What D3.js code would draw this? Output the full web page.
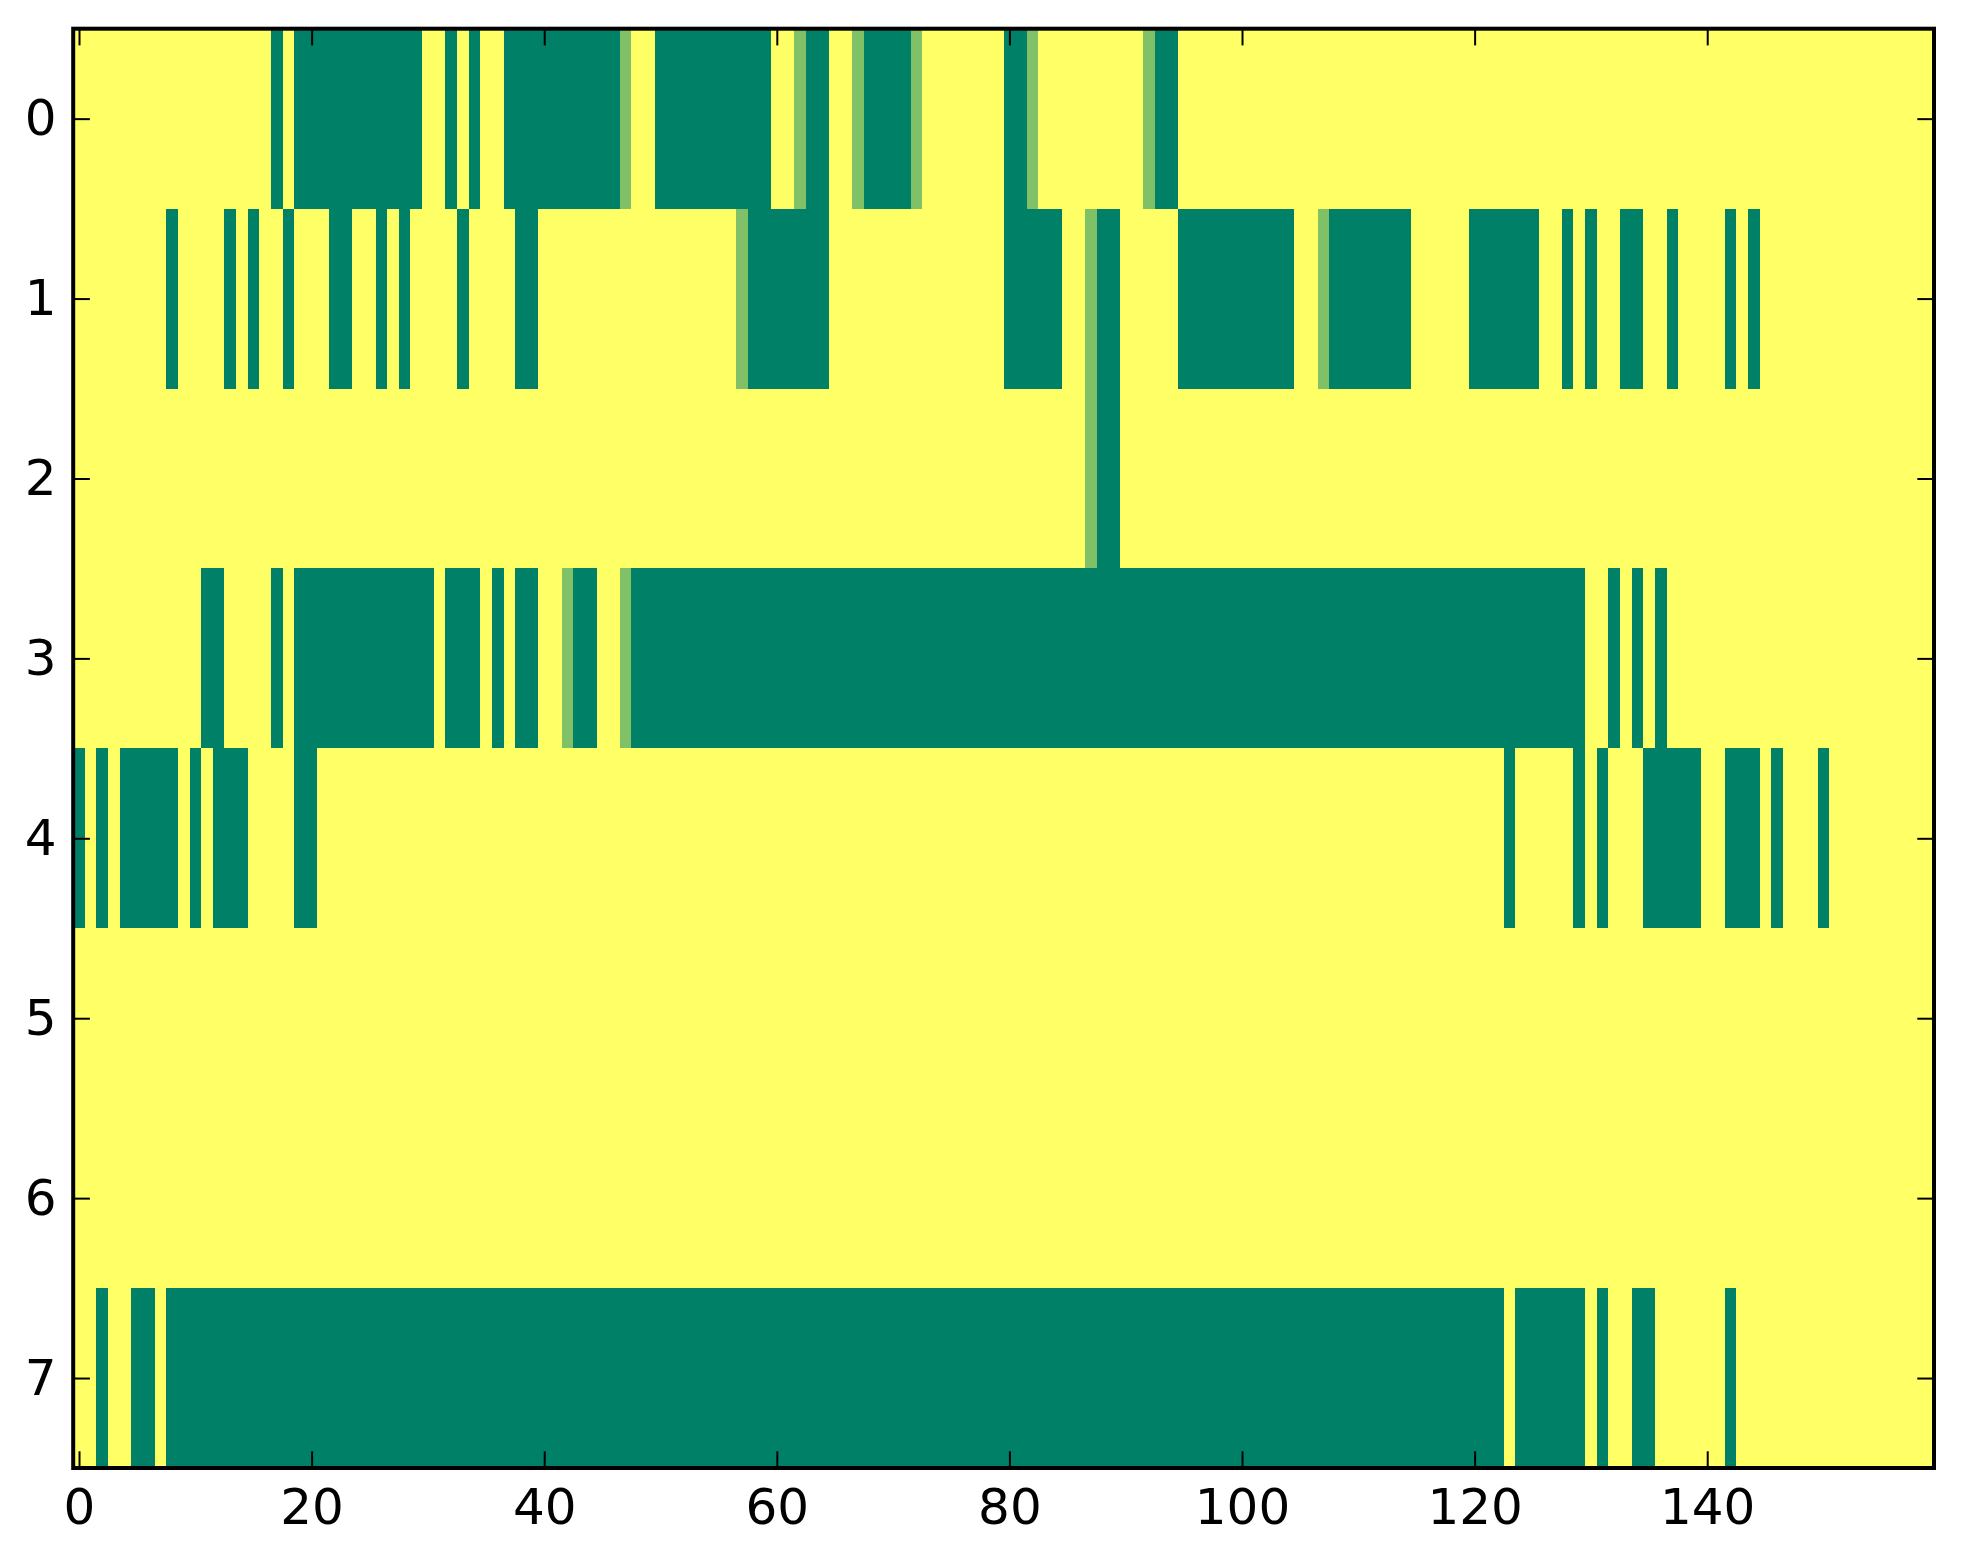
<!DOCTYPE html>
<html>
<head>
<meta charset="utf-8">
<script src="https://cdn.jsdelivr.net/npm/d3@7"></script>
<style>
  body { margin: 0; background: #fff; }
  text { font-family: "DejaVu Sans", sans-serif; }
</style>
</head>
<body>
<div class="chart"></div>
<script>
// 8 rows x 160 columns, default value 1 (yellow).
// each row lists the runs that differ: [firstCol, lastCol, value]
const nCols = 160;
const nRows = 8;

const row0 = [[17, 17, 0], [19, 29, 0], [32, 32, 0], [34, 34, 0], [37, 46, 0], [47, 47, 0.5],
  [50, 59, 0], [62, 62, 0.5], [63, 64, 0], [67, 67, 0.5], [68, 71, 0], [72, 72, 0.5],
  [80, 81, 0], [82, 82, 0.5], [92, 92, 0.5], [93, 94, 0]];
const row1 = [[8, 8, 0], [13, 13, 0], [15, 15, 0], [18, 18, 0], [22, 23, 0], [26, 26, 0],
  [28, 28, 0], [33, 33, 0], [38, 39, 0], [57, 57, 0.5], [58, 64, 0], [80, 84, 0],
  [87, 87, 0.5], [88, 89, 0], [95, 104, 0], [107, 107, 0.5], [108, 114, 0], [120, 125, 0],
  [128, 128, 0], [130, 130, 0], [133, 134, 0], [137, 137, 0], [142, 142, 0], [144, 144, 0]];
const row2 = [[87, 87, 0.5], [88, 89, 0]];
const row3 = [[11, 12, 0], [17, 17, 0], [19, 30, 0], [32, 34, 0], [36, 36, 0], [38, 39, 0],
  [42, 42, 0.5], [43, 44, 0], [47, 47, 0.5], [48, 129, 0], [132, 132, 0], [134, 134, 0],
  [136, 136, 0]];
const row4 = [[0, 0, 0], [2, 2, 0], [4, 8, 0], [10, 10, 0], [12, 14, 0], [19, 20, 0],
  [123, 123, 0], [129, 129, 0], [131, 131, 0], [135, 139, 0], [142, 144, 0], [146, 146, 0],
  [150, 150, 0]];
const row5 = [];
const row6 = [];
const row7 = [[2, 2, 0], [5, 6, 0], [8, 122, 0], [124, 129, 0], [131, 131, 0], [134, 135, 0],
  [142, 142, 0]];

const rowRuns = [row0, row1, row2, row3, row4, row5, row6, row7];
const xTicks = [0, 20, 40, 60, 80, 100, 120, 140];
const yTicks = [0, 1, 2, 3, 4, 5, 6, 7];

// expand runs into cells
const cells = [];
rowRuns.forEach((runs, r) => {
  const vals = new Array(nCols).fill(1);
  runs.forEach(([a, b, v]) => {
    for (let c = a; c <= b; c++) vals[c] = v;
  });
  vals.forEach((v, c) => cells.push({row: r, col: c, value: v}));
});

const width = 1963;
const height = 1564;
const box = {left: 73.2, top: 28.7, right: 1934, bottom: 1468};
const tickLen = 16.7;

const x = d3.scaleLinear().domain([-0.5, nCols - 0.5]).range([box.left, box.right]);
const y = d3.scaleLinear().domain([-0.5, nRows - 0.5]).range([box.top, box.bottom]);
// matplotlib "summer" colormap
const color = d3.scaleLinear().domain([0, 1]).range(['#008066', '#ffff66']);

const svg = d3.select('.chart').append('svg')
  .attr('width', width).attr('height', height);

svg.append('g')
  .attr('shape-rendering', 'crispEdges')
  .selectAll('rect')
  .data(cells)
  .enter()
  .append('rect')
  .attr('x', d => x(d.col - 0.5))
  .attr('y', d => y(d.row - 0.5))
  .attr('width', x(1) - x(0) + 0.4)
  .attr('height', y(1) - y(0) + 0.4)
  .attr('fill', d => color(d.value));

function styleAxis(g) {
  g.select('.domain').remove();
  g.selectAll('.tick line').attr('stroke', '#000').attr('stroke-width', 2);
  g.selectAll('.tick text').attr('fill', '#000').style('font-size', '50px');
}

svg.append('g')
  .attr('transform', `translate(0,${box.bottom})`)
  .call(d3.axisBottom(x).tickValues(xTicks).tickSizeInner(-tickLen).tickSizeOuter(0).tickPadding(20))
  .call(styleAxis);
svg.append('g')
  .attr('transform', `translate(0,${box.top})`)
  .call(d3.axisTop(x).tickValues(xTicks).tickSizeInner(-tickLen).tickSizeOuter(0).tickFormat(''))
  .call(styleAxis);
svg.append('g')
  .attr('transform', `translate(${box.left},0)`)
  .call(d3.axisLeft(y).tickValues(yTicks).tickSizeInner(-tickLen).tickSizeOuter(0).tickPadding(16.7))
  .call(styleAxis);
svg.append('g')
  .attr('transform', `translate(${box.right},0)`)
  .call(d3.axisRight(y).tickValues(yTicks).tickSizeInner(-tickLen).tickSizeOuter(0).tickFormat(''))
  .call(styleAxis);

// frame
svg.append('rect')
  .attr('x', box.left).attr('y', box.top)
  .attr('width', box.right - box.left).attr('height', box.bottom - box.top)
  .attr('fill', 'none').attr('stroke', '#000').attr('stroke-width', 4);
</script>
</body>
</html>
